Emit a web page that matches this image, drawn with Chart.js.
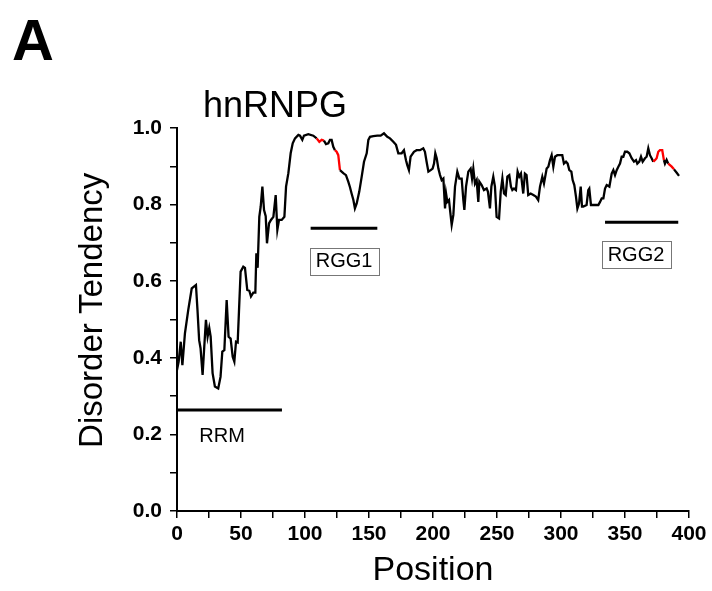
<!DOCTYPE html>
<html>
<head>
<meta charset="utf-8">
<script src="https://cdn.jsdelivr.net/npm/chart.js@4.4.1/dist/chart.umd.min.js"></script>
<style>
  html, body { margin: 0; padding: 0; background: #fff; }
  #wrap { width: 712px; height: 591px; position: relative; }
</style>
</head>
<body>
<div id="wrap"><canvas id="chart"></canvas></div>
<script>
// disorder profile
const positions = [
  0, 1.3, 2.9, 4.2, 6.2, 8.8, 11.5, 14.8, 16, 17.3, 18.4, 20, 21.3, 22.6, 23.9, 25.2, 26.3, 27.8, 29.6, 32.2,
  34, 35.4, 37, 38.8, 40.3, 41.9, 43.5, 44.8, 46.1, 47.4, 48.4, 49.7, 51.8, 53.1, 54.9, 56.5, 57.8, 59.6, 61.2, 62,
  63, 64.3, 65.4, 66.7, 68, 69.3, 70.3, 71.9, 73.4, 75.3, 77.1, 78.4, 79.7, 81.8, 83.9, 85.2, 87, 88.8, 90.4, 92.2,
  94.8, 96.1, 97.9, 99.2, 102.6, 106.5, 109.1, 111.2, 113, 114.8, 116.4, 118.2, 119.5, 120.8, 122.1, 123.4, 124.7, 126, 127.3, 129.9,
  132, 133.8, 135.1, 136.4, 137.8, 139, 140.4, 142.4, 144.3, 146.1, 148.2, 149.5, 150.8, 153.4, 156.5, 159.1, 161.7, 164.3, 166.4, 169,
  171.1, 172.9, 175.5, 177.3, 178.9, 179.9, 181.2, 182.5, 185.1, 187.2, 189.8, 192.4, 193.7, 195, 196.4, 198.2, 199.7, 200.8, 201.8, 202.9,
  204.2, 205.5, 206.8, 208.1, 209.4, 210.2, 211.2, 212.5, 213.3, 214.6, 215.9, 217.2, 219, 220.6, 222.4, 223.7, 224.5, 225.8, 227.6, 229.4,
  230.5, 231.5, 232.8, 234.1, 235.4, 236.2, 238, 239.8, 241.9, 242.9, 244.5, 245.6, 247.1, 248.4, 249.7, 251.6, 252.9, 254.2, 255.5, 256.8,
  258.1, 259.6, 260.9, 262, 263.3, 264.8, 266.1, 267.4, 268.7, 270.5, 271.8, 273.1, 274.4, 276.3, 278.4, 280.4, 282.2, 283.6, 285.4, 286.7,
  288.8, 290.1, 291.4, 292.7, 294, 295.3, 297.1, 299.2, 301, 302.3, 303.9, 305.2, 306.5, 308.1, 309.1, 310.4, 311.7, 312.8, 314.1, 315.4,
  316.4, 317.4, 320, 321.3, 322.1, 323.4, 325.3, 327.3, 329.2, 330.5, 331.8, 333.1, 334.4, 335.7, 337.8, 339.6, 340.9, 342.2, 343.5, 344.8,
  346.1, 347.4, 348.7, 350, 351.8, 353.4, 355.2, 357, 358.6, 359.6, 361.2, 362.5, 363.8, 365.6, 366.9, 368.2, 369.5, 370.8, 372.1, 373.4,
  374.7, 376, 377.3, 379.1, 380.4, 381.2, 382.5, 383.8, 386.5, 388.3, 390.4, 392.2
];
const disorder = [
  0.368, 0.39, 0.442, 0.381, 0.464, 0.525, 0.581, 0.59, 0.525, 0.446, 0.425, 0.355, 0.429, 0.499, 0.455, 0.478, 0.455, 0.36, 0.325, 0.32,
  0.35, 0.416, 0.42, 0.551, 0.455, 0.45, 0.403, 0.39, 0.442, 0.44, 0.52, 0.625, 0.638, 0.635, 0.577, 0.575, 0.56, 0.57, 0.57, 0.673,
  0.635, 0.768, 0.795, 0.847, 0.786, 0.77, 0.699, 0.751, 0.76, 0.768, 0.825, 0.734, 0.76, 0.76, 0.768, 0.847, 0.882, 0.934, 0.96, 0.973,
  0.982, 0.98, 0.969, 0.98, 0.984, 0.98, 0.973, 0.964, 0.969, 0.967, 0.958, 0.96, 0.969, 0.969, 0.951, 0.942, 0.938, 0.929, 0.89, 0.882,
  0.877, 0.86, 0.846, 0.829, 0.812, 0.79, 0.803, 0.834, 0.873, 0.912, 0.934, 0.969, 0.977, 0.979, 0.98, 0.98, 0.986, 0.977, 0.973, 0.964,
  0.956, 0.934, 0.934, 0.942, 0.916, 0.903, 0.89, 0.925, 0.938, 0.942, 0.942, 0.947, 0.938, 0.912, 0.886, 0.89, 0.894, 0.907, 0.934, 0.921,
  0.894, 0.877, 0.864, 0.868, 0.79, 0.829, 0.807, 0.812, 0.786, 0.747, 0.773, 0.847, 0.886, 0.868, 0.868, 0.812, 0.786, 0.847, 0.886, 0.894,
  0.868, 0.894, 0.855, 0.864, 0.807, 0.86, 0.851, 0.838, 0.842, 0.834, 0.79, 0.847, 0.873, 0.847, 0.768, 0.764, 0.834, 0.868, 0.829, 0.825,
  0.873, 0.877, 0.847, 0.838, 0.842, 0.838, 0.886, 0.873, 0.881, 0.829, 0.881, 0.877, 0.825, 0.829, 0.825, 0.821, 0.812, 0.847, 0.873, 0.855,
  0.894, 0.899, 0.916, 0.929, 0.899, 0.925, 0.929, 0.929, 0.929, 0.907, 0.912, 0.907, 0.89, 0.886, 0.864, 0.851, 0.821, 0.79, 0.803, 0.847,
  0.795, 0.795, 0.799, 0.838, 0.842, 0.799, 0.799, 0.799, 0.799, 0.807, 0.816, 0.816, 0.842, 0.851, 0.847, 0.881, 0.89, 0.877, 0.89, 0.899,
  0.907, 0.925, 0.925, 0.938, 0.938, 0.934, 0.921, 0.912, 0.916, 0.907, 0.912, 0.925, 0.912, 0.921, 0.925, 0.947, 0.929, 0.921, 0.912, 0.916,
  0.921, 0.938, 0.942, 0.942, 0.916, 0.907, 0.917, 0.907, 0.899, 0.892, 0.883, 0.875
];
// stretches of the curve drawn in red
const redRanges = [[108.5, 115], [123, 127.5], [372, 380.4], [383.8, 388.3]];

// domain bars and their labels
const domainNames = ['RRM', 'RGG1', 'RGG2'];
const domainStart = [0, 104.4, 334.4];
const domainEnd = [82, 156.5, 391.6];
const domainLevel = [0.264, 0.738, 0.754];
const labelPos = [35.2, 130.5, 358.6];
const labelLevel = [0.198, 0.653, 0.671];
const labelBoxed = [false, true, true];

const xTicks = [0, 50, 100, 150, 200, 250, 300, 350, 400];
const yTicks = [0.0, 0.2, 0.4, 0.6, 0.8, 1.0];

const FONT = "'Liberation Sans', Arial, Helvetica, sans-serif";

function isRed(x) {
  return redRanges.some(r => x >= r[0] && x <= r[1]);
}

const profile = positions.map((p, i) => ({x: p, y: disorder[i]}));

const domainSets = domainNames.map((name, i) => ({
  label: name,
  data: [{x: domainStart[i], y: domainLevel[i]}, {x: domainEnd[i], y: domainLevel[i]}],
  borderColor: '#000',
  borderWidth: 3,
  pointRadius: 0,
  borderCapStyle: 'butt'
}));

// text: panel letter, protein name, domain labels
const annotations = {
  id: 'annotations',
  afterDatasetsDraw(chart) {
    const ctx = chart.ctx;
    const xs = chart.scales.x, ys = chart.scales.y;
    ctx.save();
    ctx.fillStyle = '#000';
    ctx.textBaseline = 'alphabetic';
    ctx.textAlign = 'left';
    ctx.font = 'bold 58px ' + FONT;
    ctx.fillText('A', 12, 60);
    ctx.textAlign = 'center';
    ctx.font = '36px ' + FONT;
    ctx.fillText('hnRNPG', 275, 117);

    ctx.font = '20px ' + FONT;
    ctx.textBaseline = 'middle';
    domainNames.forEach((name, i) => {
      const cx = xs.getPixelForValue(labelPos[i]);
      const cy = ys.getPixelForValue(labelLevel[i]);
      ctx.fillText(name, cx, cy + 1);
      if (labelBoxed[i]) {
        const w = ctx.measureText(name).width + 12;
        ctx.strokeStyle = '#777';
        ctx.lineWidth = 1;
        ctx.strokeRect(Math.round(cx - w / 2) + 0.5, Math.round(cy - 13) + 0.5, Math.round(w), 27);
      }
    });
    ctx.restore();
  }
};

new Chart(document.getElementById('chart'), {
  type: 'line',
  data: {
    datasets: [{
      label: 'Disorder',
      data: profile,
      borderColor: '#000',
      borderWidth: 2.3,
      pointRadius: 0,
      tension: 0,
      segment: {
        borderColor: c => isRed((c.p0.parsed.x + c.p1.parsed.x) / 2) ? '#ff0000' : '#000'
      }
    }, ...domainSets]
  },
  options: {
    responsive: true,
    maintainAspectRatio: false,
    animation: false,
    layout: { padding: { left: 0, right: 23, top: 128, bottom: 0 } },
    plugins: { legend: { display: false }, tooltip: { enabled: false } },
    scales: {
      x: {
        type: 'linear',
        min: 0,
        max: 400,
        afterFit: s => { s.height = 80; },
        border: { display: true, color: '#000', width: 2 },
        grid: { drawOnChartArea: false, drawTicks: true, tickLength: 7, color: '#000', lineWidth: 1.5 },
        ticks: {
          stepSize: 25,
          autoSkip: false,
          maxRotation: 0,
          padding: 4,
          color: '#000',
          font: { family: FONT, size: 21, weight: 'bold' },
          callback: v => xTicks.includes(v) ? String(v) : ''
        },
        title: {
          display: true,
          text: 'Position',
          color: '#000',
          font: { family: FONT, size: 34 },
          padding: { top: 0, bottom: 0 }
        }
      },
      y: {
        type: 'linear',
        min: 0,
        max: 1,
        afterFit: s => { s.width = 177; },
        border: { display: true, color: '#000', width: 2 },
        grid: { drawOnChartArea: false, drawTicks: true, tickLength: 7, color: '#000', lineWidth: 1.5 },
        ticks: {
          stepSize: 0.1,
          autoSkip: false,
          padding: 8,
          color: '#000',
          font: { family: FONT, size: 21, weight: 'bold' },
          callback: v => yTicks.some(t => Math.abs(t - v) < 1e-6) ? v.toFixed(1) : ''
        },
        title: {
          display: true,
          // leading spaces nudge the label up to where the original sits
          text: '  Disorder Tendency',
          color: '#000',
          font: { family: FONT, size: 33 },
          padding: { top: 73, bottom: 0 }
        }
      }
    }
  },
  plugins: [annotations]
});
</script>
</body>
</html>
